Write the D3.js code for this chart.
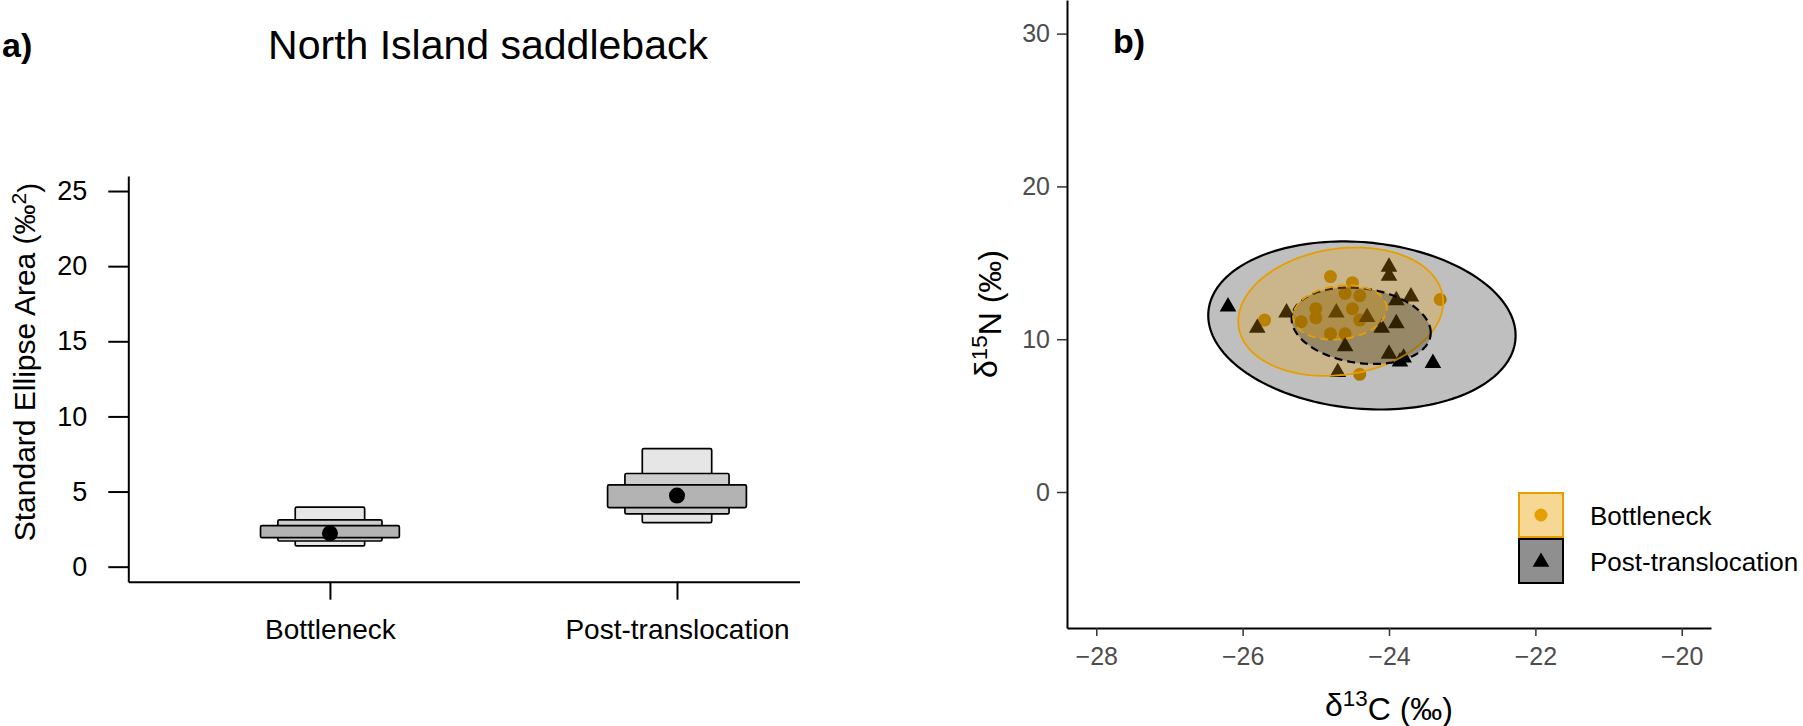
<!DOCTYPE html>
<html>
<head>
<meta charset="utf-8">
<script src="https://cdn.jsdelivr.net/npm/d3@7"></script>
<style>
  body { margin: 0; background: #fff; }
  svg { display: block; font-family: "Liberation Sans", Arial, sans-serif; }
</style>
</head>
<body>
<svg id="chart" width="1803" height="726"></svg>
<script>
// ---- panel a: SEA posterior summaries
const groups = ["Bottleneck", "Post-translocation"];
const seaMode = [2.22, 4.73];
const ci95 = [[1.38, 3.96], [2.93, 7.85]];
const ci75 = [[1.71, 3.11], [3.51, 6.20]];
const ci50 = [[1.93, 2.73], [3.93, 5.45]];
const seaTicks = [0, 5, 10, 15, 20, 25];

// ---- panel b: isotope values
const bottleneckC = [-24.8, -24.5, -24.6, -24.4, -23.3, -25.7, -25.0, -25.0, -25.2, -24.5, -24.4, -24.8, -24.6, -24.4];
const bottleneckN = [14.1, 13.7, 13.0, 12.85, 12.6, 11.25, 12.0, 11.4, 11.15, 12.0, 11.25, 10.35, 10.35, 7.7];
const postC = [-26.2, -25.8, -25.4, -24.72, -24.3, -24.0, -24.0, -23.9, -23.7, -24.1, -23.9, -24.6, -24.0, -23.85, -23.8, -23.4, -24.7];
const postN = [12.2, 10.8, 11.8, 11.8, 11.5, 14.8, 14.2, 12.6, 12.85, 10.8, 11.1, 9.6, 9.1, 8.6, 8.85, 8.5, 7.9];

// ellipses: centre, half extent along each axis, correlation
const ellipseGroup = ["Post-translocation", "Bottleneck", "Post-translocation", "Bottleneck"];
const ellipseType = ["95%", "95%", "SEA", "SEA"];
const ellipseCx = [-24.37, -24.66, -24.38, -24.67];
const ellipseCy = [10.9, 11.8, 10.88, 11.75];
const ellipseRx = [2.1, 1.4, 0.95, 0.64];
const ellipseRy = [5.5, 4.2, 2.5, 1.78];
const ellipseRho = [-0.12, 0.15, -0.18, 0.15];

const cTicks = [-28, -26, -24, -22, -20];
const nTicks = [0, 10, 20, 30];

const orange = "#E69F00";

const svg = d3.select("#chart");

// ================= panel a =================
const xA = d3.scaleLinear().domain([0.419, 2.353]).range([128.3, 799.5]);
const yA = d3.scaleLinear().domain([-1, 26]).range([581.7, 176]);

const gA = svg.append("g");

gA.append("g")
    .attr("transform", "translate(128.3,0)")
    .call(d3.axisLeft(yA).tickValues(seaTicks).tickSize(20).tickSizeOuter(0).tickPadding(21))
    .call(g => g.selectAll("text").attr("font-size", 27).attr("fill", "#000").attr("font-family", null))
    .call(g => g.selectAll("line,path").attr("stroke", "#000").attr("stroke-width", 2));

gA.append("g")
    .attr("transform", "translate(0,581.7)")
    .call(d3.axisBottom(xA).tickValues([1, 2]).tickFormat(i => groups[i - 1]).tickSize(18).tickSizeOuter(0).tickPadding(19))
    .call(g => g.selectAll("text").attr("font-size", 28).attr("fill", "#000").attr("font-family", null))
    .call(g => g.selectAll("line,path").attr("stroke", "#000").attr("stroke-width", 2));

// credible interval boxes, widest interval drawn first
const boxLevels = [
    {ci: ci95, half: 0.1, fill: "#e6e6e6"},
    {ci: ci75, half: 0.15, fill: "#cdcdcd"},
    {ci: ci50, half: 0.2, fill: "#b3b3b3"}
];
boxLevels.forEach(lv => {
    gA.append("g")
        .selectAll("rect")
        .data(groups)
        .join("rect")
        .attr("x", (d, i) => xA(i + 1 - lv.half))
        .attr("width", (d, i) => xA(i + 1 + lv.half) - xA(i + 1 - lv.half))
        .attr("y", (d, i) => yA(lv.ci[i][1]))
        .attr("height", (d, i) => yA(lv.ci[i][0]) - yA(lv.ci[i][1]))
        .attr("fill", lv.fill)
        .attr("stroke", "#000")
        .attr("stroke-width", 1.7)
        .attr("rx", 1.5);
});

gA.append("g")
    .selectAll("circle")
    .data(seaMode)
    .join("circle")
    .attr("cx", (d, i) => xA(i + 1))
    .attr("cy", d => yA(d))
    .attr("r", 8)
    .attr("fill", "#000");

// y title
gA.append("text")
    .attr("transform", "translate(35,362) rotate(-90)")
    .attr("text-anchor", "middle")
    .attr("font-size", 30)
    .call(t => {
        t.append("tspan").text("Standard Ellipse Area (\u2030");
        t.append("tspan").attr("dy", "-0.45em").attr("font-size", "0.7em").text("2");
        t.append("tspan").attr("dy", "0.45em").text(")");
    });

svg.append("text").attr("x", 2).attr("y", 57).attr("font-size", 34).attr("font-weight", "bold").text("a)");
svg.append("text").attr("x", 488).attr("y", 59).attr("text-anchor", "middle").attr("font-size", 41)
    .text("North Island saddleback");

// ================= panel b =================
const xB = d3.scaleLinear().domain([-28.4, -19.6]).range([1067, 1711]);
const yB = d3.scaleLinear().domain([-8.9, 32.2]).range([628, 0]);

const gB = svg.append("g");

// points underneath the ellipse fills
gB.append("g")
    .selectAll("circle")
    .data(bottleneckC)
    .join("circle")
    .attr("cx", d => xB(d))
    .attr("cy", (d, i) => yB(bottleneckN[i]))
    .attr("r", 6.5)
    .attr("fill", orange);

const tri = d3.symbol().type(d3.symbolTriangle).size(120);
gB.append("g")
    .selectAll("path")
    .data(postC)
    .join("path")
    .attr("transform", (d, i) => `translate(${xB(d)},${yB(postN[i]) + 1})`)
    .attr("d", tri)
    .attr("fill", "#000");

const ellLine = d3.line().curve(d3.curveLinearClosed);
const angles = d3.range(0, 2 * Math.PI, Math.PI / 90);
gB.append("g")
    .selectAll("path")
    .data(ellipseGroup)
    .join("path")
    .attr("d", (g, i) => ellLine(angles.map(t => [
        xB(ellipseCx[i] + ellipseRx[i] * Math.cos(t)),
        yB(ellipseCy[i] + ellipseRy[i] * (ellipseRho[i] * Math.cos(t) + Math.sqrt(1 - ellipseRho[i] ** 2) * Math.sin(t)))
    ])))
    .attr("fill", g => g === "Bottleneck" ? orange : "#000")
    .attr("fill-opacity", g => g === "Bottleneck" ? 0.28 : 0.25)
    .attr("stroke", g => g === "Bottleneck" ? orange : "#000")
    .attr("stroke-width", g => g === "Bottleneck" ? 1.8 : 2.2)
    .attr("stroke-dasharray", (g, i) => ellipseType[i] === "SEA" ? "8,5" : null);

// axes
gB.append("g")
    .attr("transform", "translate(0,628)")
    .call(d3.axisBottom(xB).tickValues(cTicks).tickSize(8).tickSizeOuter(0).tickPadding(11))
    .call(g => g.selectAll("text").attr("font-size", 25).attr("fill", "#4d4d4d").attr("font-family", null))
    .call(g => g.selectAll("line").attr("stroke", "#333").attr("stroke-width", 1.5))
    .call(g => g.select("path").attr("stroke", "#000").attr("stroke-width", 2));

gB.append("g")
    .attr("transform", "translate(1067,0)")
    .call(d3.axisLeft(yB).tickValues(nTicks).tickSize(10).tickSizeOuter(0).tickPadding(7))
    .call(g => g.selectAll("text").attr("font-size", 25).attr("fill", "#4d4d4d").attr("font-family", null))
    .call(g => g.selectAll("line").attr("stroke", "#333").attr("stroke-width", 1.5))
    .call(g => g.select("path").attr("stroke", "#000").attr("stroke-width", 2));

gB.append("text")
    .attr("x", 1389).attr("y", 716)
    .attr("text-anchor", "middle")
    .attr("font-size", 32)
    .call(t => {
        t.append("tspan").text("\u03b4");
        t.append("tspan").attr("dy", "-0.45em").attr("font-size", "0.7em").text("13");
        t.append("tspan").attr("dy", "0.45em").text("C (\u2030)");
    });

gB.append("text")
    .attr("transform", "translate(997,314) rotate(-90)")
    .attr("text-anchor", "middle")
    .attr("font-size", 32)
    .call(t => {
        t.append("tspan").text("\u03b4");
        t.append("tspan").attr("dy", "-0.45em").attr("font-size", "0.7em").text("15");
        t.append("tspan").attr("dy", "0.45em").text("N (\u2030)");
    });

svg.append("text").attr("x", 1113).attr("y", 53).attr("font-size", 34).attr("font-weight", "bold").text("b)");

// legend
const legend = gB.append("g").attr("transform", "translate(1519,493)");
const keyFill = ["#f6d794", "#8f8f8f"];
const keyStroke = [orange, "#000"];
groups.forEach((g, i) => {
    const k = legend.append("g").attr("transform", `translate(0,${i * 46})`);
    k.append("rect").attr("width", 44).attr("height", 44)
        .attr("fill", keyFill[i]).attr("stroke", keyStroke[i]).attr("stroke-width", 2);
    if (i === 0) {
        k.append("circle").attr("cx", 22).attr("cy", 22).attr("r", 6.5).attr("fill", orange);
    } else {
        k.append("path").attr("transform", "translate(22,23)").attr("d", tri).attr("fill", "#000");
    }
    k.append("text").attr("x", 71).attr("y", 23).attr("dy", "0.35em").attr("font-size", 26).text(g);
});
</script>
</body>
</html>
